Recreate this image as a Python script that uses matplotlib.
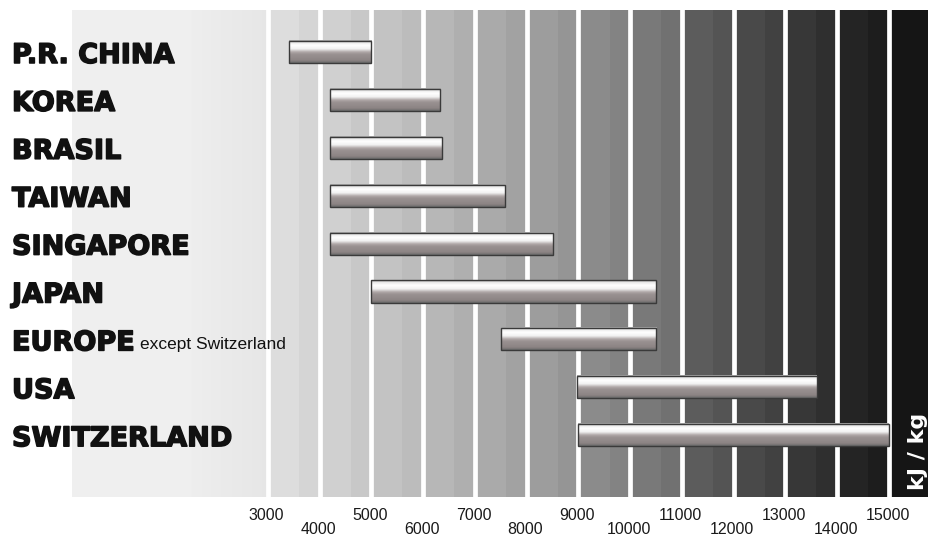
import numpy as np
import matplotlib
matplotlib.use("Agg")
import matplotlib.pyplot as plt
from matplotlib import transforms
from matplotlib import patheffects
from matplotlib.patches import Rectangle
from matplotlib.colors import LinearSegmentedColormap

# Specific energy consumption ranges per region (kJ / kg)
regions = ["P.R. CHINA", "KOREA", "BRASIL", "TAIWAN", "SINGAPORE",
           "JAPAN", "EUROPE", "USA", "SWITZERLAND"]
range_low = [3400, 4200, 4200, 4200, 4200, 5000, 7500, 8980, 9000]
range_high = [5000, 6330, 6360, 7580, 8500, 10500, 10500, 13600, 15000]
tick_values = [3000, 4000, 5000, 6000, 7000, 8000, 9000, 10000,
               11000, 12000, 13000, 14000, 15000]
tick_labels = [str(v) for v in tick_values]
unit_label = "kJ / kg"
europe_note = "except Switzerland"

W, H = 929, 538
fig = plt.figure(figsize=(W / 100, H / 100), dpi=100)
fig.patch.set_facecolor("white")

ax_left, ax_right, ax_top, ax_bottom = 72, 929, 10, 497
ax = fig.add_axes([ax_left / W, 1 - ax_bottom / H,
                   (ax_right - ax_left) / W, (ax_bottom - ax_top) / H])
px_per_unit = 51.75 / 1000.0
x0 = 3000 - (268 - ax_left) / px_per_unit
x1 = 15000 + (ax_right - 889) / px_per_unit
ax.set_xlim(x0, x1)
ax.set_ylim(len(regions) - 1 + 1.29, -0.877)
ax.axis("off")

# Background: grey bands darkening with energy, white rule every 1000
band_base = {2000: 0.905, 3000: 0.865, 4000: 0.815, 5000: 0.765,
             6000: 0.715, 7000: 0.665, 8000: 0.615, 9000: 0.545,
             10000: 0.475, 11000: 0.36, 12000: 0.29, 13000: 0.215,
             14000: 0.145, 15000: 0.085}
xs = np.linspace(x0, x1, 1800)
shade = np.empty_like(xs)
for i, x in enumerate(xs):
    if x < 1500:
        shade[i] = 0.935
    elif x < 3000:
        shade[i] = 0.93 - 0.03 * (x - 1500) / 1500
    else:
        k = min(int(x // 1000) * 1000, 15000)
        frac = (x - k) / 1000.0
        base = band_base[k]
        shade[i] = base if frac < 0.6 or k == 15000 else base - 0.03
img = np.tile(shade, (2, 1))
ax.imshow(img, cmap="gray", vmin=0, vmax=1, aspect="auto",
          extent=(x0, x1, ax.get_ylim()[0], ax.get_ylim()[1]),
          origin="upper", zorder=0, interpolation="nearest")
for v in tick_values:
    ax.axvline(v, color="white", lw=3.4, zorder=1)

# Cylinder-shaded bars
bar_h = 0.46
prof_pos = [0.0, 0.08, 0.22, 0.38, 0.52, 0.62, 0.88, 1.0]
prof_col = ["#9a9a9a", "#e6e6e6", "#ffffff", "#f2f2f2", "#b0a8a8",
            "#9a9292", "#8c8484", "#6a6a6a"]
bar_cmap = LinearSegmentedColormap.from_list("cyl", list(zip(prof_pos, prof_col)))
grad = np.linspace(0, 1, 64)[:, None]
for i, (lo, hi) in enumerate(zip(range_low, range_high)):
    ax.imshow(grad, cmap=bar_cmap, vmin=0, vmax=1, aspect="auto",
              extent=(lo, hi, i + bar_h / 2, i - bar_h / 2),
              origin="upper", zorder=3, interpolation="bilinear")
    ax.add_patch(Rectangle((lo, i - bar_h / 2), hi - lo, bar_h, fill=False,
                           edgecolor="#3a3a3a", lw=1.0, zorder=4))

# Region labels, set a little below each bar's centre line, heavy weight
label_tf = transforms.blended_transform_factory(fig.transFigure, ax.transData)
label_tf = label_tf + transforms.ScaledTranslation(0, -4 / 100, fig.dpi_scale_trans)
heavy = [patheffects.withStroke(linewidth=1.1, foreground="#111111")]
label_font = dict(family=["DejaVu Sans"], weight="bold",
                  size=19.5, color="#111111")
for i, name in enumerate(regions):
    t = ax.text(12 / W, i, name, transform=label_tf, ha="left",
                va="center", zorder=5, path_effects=heavy, **label_font)
    if name == "EUROPE":
        ax.annotate(europe_note, xy=(1, 0), xycoords=t,
                    xytext=(4, 3), textcoords="offset points",
                    ha="left", va="bottom", fontsize=12.5,
                    family=["Liberation Sans"],
                    color="#111111", zorder=5)

# Staggered tick labels under the bands
tick_tf = transforms.blended_transform_factory(ax.transData, fig.transFigure)
for j, (v, lab) in enumerate(zip(tick_values, tick_labels)):
    ypix = 516 if j % 2 == 0 else 529
    ax.text(v - 30, 1 - ypix / H, lab, transform=tick_tf, ha="center",
            va="center", fontsize=11.5, family=["Liberation Sans"],
            color="#1a1a1a", clip_on=False)

# Unit label in the darkest band
fig.text(918 / W, 1 - 490 / H, unit_label, rotation=90, ha="center",
         va="bottom", color="white", fontsize=16, weight="bold",
         family=["DejaVu Sans"])

fig.savefig("out.png", dpi=100, facecolor="white")
